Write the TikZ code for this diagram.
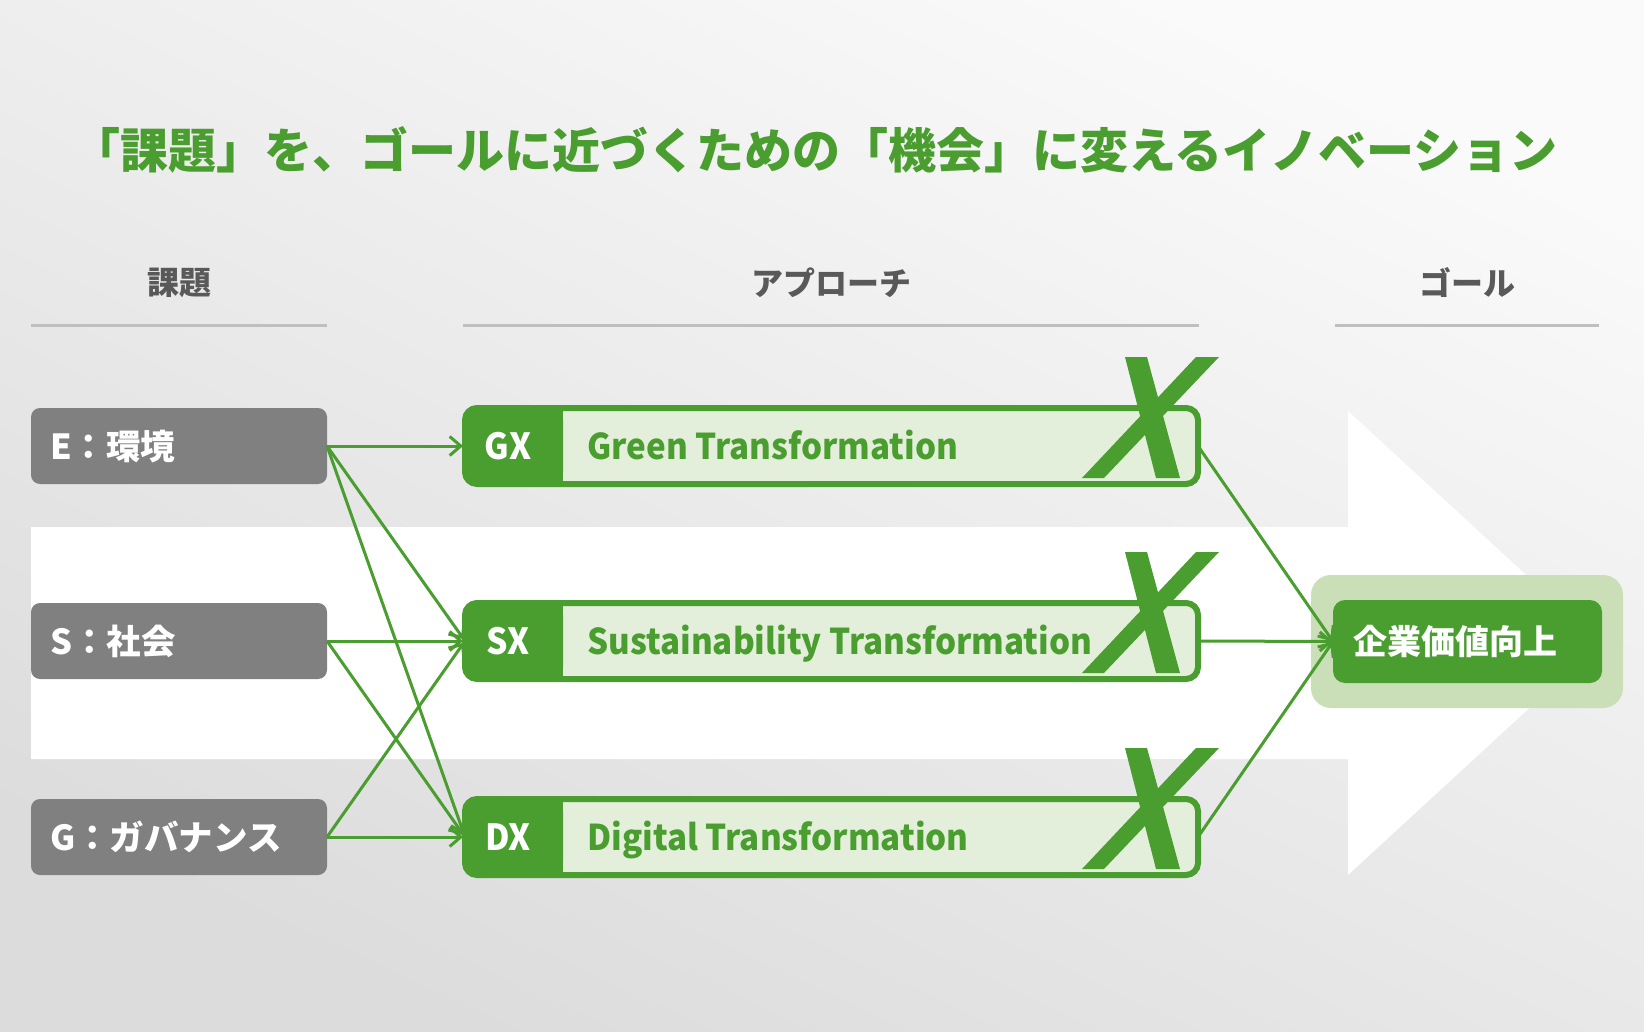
\documentclass[tikz,border=0pt]{standalone}
\usepackage{fontspec}
\setmainfont{Noto Sans CJK JP}
\newfontfamily\narrowlatin[FakeStretch=0.935]{Noto Sans CJK JP}
\usetikzlibrary{arrows.meta}
\definecolor{mygreen}{HTML}{4A9D2F}
\definecolor{mylight}{HTML}{E3EFDA}
\definecolor{goalbg}{HTML}{CADFB8}
\definecolor{boxgray}{HTML}{808080}
\definecolor{headgray}{HTML}{595959}
\definecolor{rulegray}{HTML}{BFBFBF}
\definecolor{bgtop}{HTML}{FAFAFA}
\definecolor{bgbot}{HTML}{DCDCDC}
\newcommand{\bigcross}[1]{%
  \fill[mygreen] (1125,#1-89) -- (1147,#1-89) -- (1180,#1+32) -- (1156,#1+32) -- cycle;
  \fill[mygreen] (1196,#1-89) -- (1219,#1-89) -- (1104,#1+32) -- (1082,#1+32) -- cycle;}
\begin{document}
\begin{tikzpicture}[x=1pt,y=-1pt,
  issue/.style={fill=boxgray, rounded corners=9pt, minimum height=76pt,
    text width=258pt, inner xsep=19pt, inner ysep=0pt, align=left, text=white,
    font=\bfseries\fontsize{34.5}{40}\selectfont, text height=30pt, text depth=4pt, outer sep=0pt},
  appbox/.style={draw=mygreen, fill=mylight, line width=6pt, rounded corners=12pt,
    minimum width=733pt, minimum height=76pt, outer sep=0pt, inner sep=0pt},
  applabel/.style={text=white, font=\narrowlatin\bfseries\fontsize{36}{42}\selectfont, inner sep=0pt, anchor=base},
  apptext/.style={text=mygreen, font=\narrowlatin\bfseries\fontsize{35.5}{42}\selectfont, inner sep=0pt, anchor=base west},
  header/.style={text=headgray, font=\bfseries\fontsize{32}{38}\selectfont, inner sep=0pt},
  rule/.style={draw=rulegray, line width=3pt},
  conn/.style={draw=mygreen, line width=3pt, -{Straight Barb[length=11pt,width=19pt]}},
]
\useasboundingbox (0,0) rectangle (1644,1032);
\shade[shading=axis, top color=bgtop, bottom color=bgbot, shading angle=-25] (0,0) rectangle (1644,1032);

% big white arrow
\fill[white] (31,527) -- (1348,527) -- (1348,411) -- (1600,643) -- (1348,875) -- (1348,759) -- (31,759) -- cycle;

% title
\node[text=mygreen, font=\bfseries\fontsize{48}{56}\selectfont, inner sep=0pt] (title) at (815,150)
  {「課題」を、ゴールに近づくための「機会」に変えるイノベーション};

% headers
\node[header] (h1) at (179,283) {課題};
\node[header] (h2) at (831,283) {アプローチ};
\node[header] (h3) at (1467,283) {ゴール};
\draw[rule] (31,326) -- (327,326);
\draw[rule] (463,326) -- (1199,326);
\draw[rule] (1335,326) -- (1599,326);

% issue boxes
\node[issue] (e) at (179,446) {E：環境};
\node[issue] (s) at (179,641) {S：社会};
\node[issue] (g) at (179,837) {G：ガバナンス};

% approach boxes
\node[appbox] (gx) at (831.5,446) {};
\node[appbox] (sx) at (831.5,641) {};
\node[appbox] (dx) at (831.5,837) {};
\foreach \b in {gx,sx,dx}{
  \fill[mygreen, rounded corners=12pt] (\b.north west) rectangle ([xshift=98pt]\b.south west);
  \fill[mygreen] ([xshift=60pt]\b.north west) rectangle ([xshift=98pt]\b.south west);
}
\node[applabel] (gxl) at (508,459) {GX};
\node[applabel] (sxl) at (508,654) {SX};
\node[applabel] (dxl) at (508,850) {DX};
\node[apptext] (gxt) at (587,459) {Green Transformation};
\node[apptext] (sxt) at (587,654) {Sustainability Transformation};
\node[apptext] (dxt) at (587,850) {Digital Transformation};

% X marks
\bigcross{446}
\bigcross{641}
\bigcross{837}

% goal
\node[fill=goalbg, rounded corners=20pt, minimum width=312pt, minimum height=133pt, inner sep=0pt] (goalbg) at (1467,641.5) {};
\node[fill=mygreen, rounded corners=12pt, minimum height=83pt, text width=229pt, inner xsep=20pt, inner ysep=0pt,
  align=left, text=white, font=\bfseries\fontsize{34}{40}\selectfont, text height=30pt, text depth=4pt, outer sep=0pt]
  (goal) at (1467.5,641.5) {企業価値向上};

% connectors
\draw[conn, shorten >=2pt] (e.east) -- (gx.west);
\draw[conn, shorten >=2pt] (e.east) -- (sx.west);
\draw[conn, shorten >=2pt] (e.east) -- (dx.west);
\draw[conn, shorten >=2pt] (s.east) -- (sx.west);
\draw[conn, shorten >=2pt] (s.east) -- (dx.west);
\draw[conn, shorten >=2pt] (g.east) -- (sx.west);
\draw[conn, shorten >=2pt] (g.east) -- (dx.west);
\draw[conn] (gx.east) -- (goal.west);
\draw[conn] (sx.east) -- (goal.west);
\draw[conn] (dx.east) -- (goal.west);
\end{tikzpicture}
\end{document}
